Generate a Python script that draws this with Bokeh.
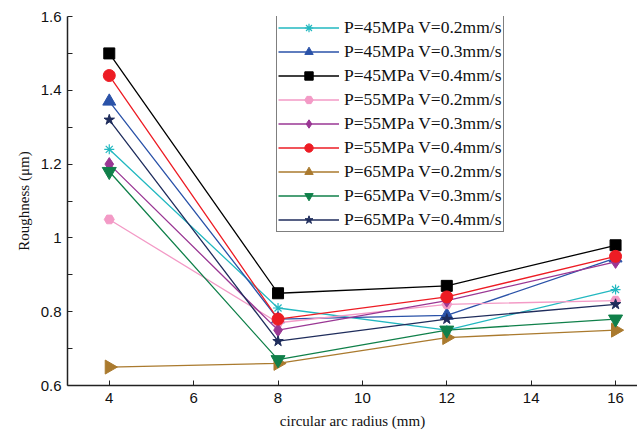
import math
from bokeh.plotting import figure
from bokeh.models import Range1d, FixedTicker, CustomJSTickFormatter, Legend
from bokeh.embed import file_html
from bokeh.resources import INLINE

radius = [4, 8, 12, 16]
labels = [
    "P=45MPa V=0.2mm/s",
    "P=45MPa V=0.3mm/s",
    "P=45MPa V=0.4mm/s",
    "P=55MPa V=0.2mm/s",
    "P=55MPa V=0.3mm/s",
    "P=55MPa V=0.4mm/s",
    "P=65MPa V=0.2mm/s",
    "P=65MPa V=0.3mm/s",
    "P=65MPa V=0.4mm/s",
]
p45_v02 = [1.24, 0.81, 0.75, 0.86]
p45_v03 = [1.37, 0.78, 0.79, 0.945]
p45_v04 = [1.50, 0.85, 0.87, 0.98]
p55_v02 = [1.05, 0.77, 0.82, 0.83]
p55_v03 = [1.20, 0.75, 0.83, 0.935]
p55_v04 = [1.44, 0.78, 0.84, 0.95]
p65_v02 = [0.65, 0.66, 0.73, 0.75]
p65_v03 = [1.18, 0.67, 0.75, 0.78]
p65_v04 = [1.32, 0.72, 0.78, 0.82]
series = [p45_v02, p45_v03, p45_v04, p55_v02, p55_v03, p55_v04, p65_v02, p65_v03, p65_v04]

y_major = [0.6, 0.8, 1.0, 1.2, 1.4, 1.6]
y_minor = [0.7, 0.9, 1.1, 1.3, 1.5]
x_major = [4, 6, 8, 10, 12, 14, 16]

colors = ["#22B8C0", "#2A52A8", "#000000", "#F39AC6", "#9A3794",
          "#ED1C24", "#AA7A2E", "#10804A", "#1F2D5C"]
markers = ["asterisk", "triangle", "square", "hex", "diamond",
           "circle", "triangle", "inverted_triangle", "star"]
sizes = [10, 13, 11, 10, 13, 12, 14, 14, 11]
angles = [0, 0, 0, 0, 0, 0, -math.pi / 2, 0, 0]

p = figure(frame_width=570, frame_height=369,
           min_border_left=67, min_border_top=16, min_border_right=0, min_border_bottom=0,
           x_range=Range1d(3.01, 16.52), y_range=Range1d(0.6, 1.6),
           output_backend="svg", toolbar_location=None)
p.outline_line_color = None
p.grid.visible = False

legend_items = []
for lab, ys, c, m, s, a in zip(labels, series, colors, markers, sizes, angles):
    r1 = p.line(radius, ys, line_color=c, line_width=1.3)
    r2 = p.scatter(radius, ys, marker=m, size=s, angle=a,
                   fill_color=c, line_color=c, line_width=1.2 if m == "asterisk" else 1)
    legend_items.append((lab, [r1, r2]))

legend = Legend(items=legend_items, location=(209, 153))
legend.label_text_font = "Liberation Serif"
legend.label_text_font_size = "17.5px"
legend.label_text_color = "#111111"
legend.glyph_width = 61
legend.glyph_height = 21
legend.label_height = 21
legend.label_standoff = 5
legend.spacing = 3
legend.padding = 1
legend.margin = 0
legend.border_line_color = "#000000"
legend.border_line_width = 1.5
legend.background_fill_alpha = 1
p.add_layout(legend, "center")

for ax in (p.xaxis[0], p.yaxis[0]):
    ax.axis_line_color = "#222222"
    ax.axis_line_width = 1.5
    ax.major_tick_line_color = "#222222"
    ax.minor_tick_line_color = "#222222"
    ax.major_tick_in = 5
    ax.major_tick_out = 0
    ax.minor_tick_in = 5
    ax.minor_tick_out = 0
    ax.major_label_text_font = "Liberation Sans"
    ax.major_label_text_font_size = "15px"
    ax.major_label_text_color = "#111111"
    ax.axis_label_text_font = "Liberation Serif"
    ax.axis_label_text_font_size = "15px"
    ax.axis_label_text_font_style = "normal"
    ax.axis_label_text_color = "#111111"

p.xaxis[0].ticker = FixedTicker(ticks=x_major)
p.xaxis[0].axis_label = "circular arc radius (mm)"
p.xaxis[0].major_label_standoff = 7
p.xaxis[0].axis_label_standoff = 7

p.yaxis[0].ticker = FixedTicker(ticks=y_major, minor_ticks=y_minor)
p.yaxis[0].formatter = CustomJSTickFormatter(code="return String(parseFloat(tick.toFixed(1)));")
p.yaxis[0].axis_label = "Roughness (\u03bcm)"
p.yaxis[0].major_label_standoff = 6
p.yaxis[0].axis_label_standoff = 6

open("out.html", "w").write(file_html(p, INLINE))
